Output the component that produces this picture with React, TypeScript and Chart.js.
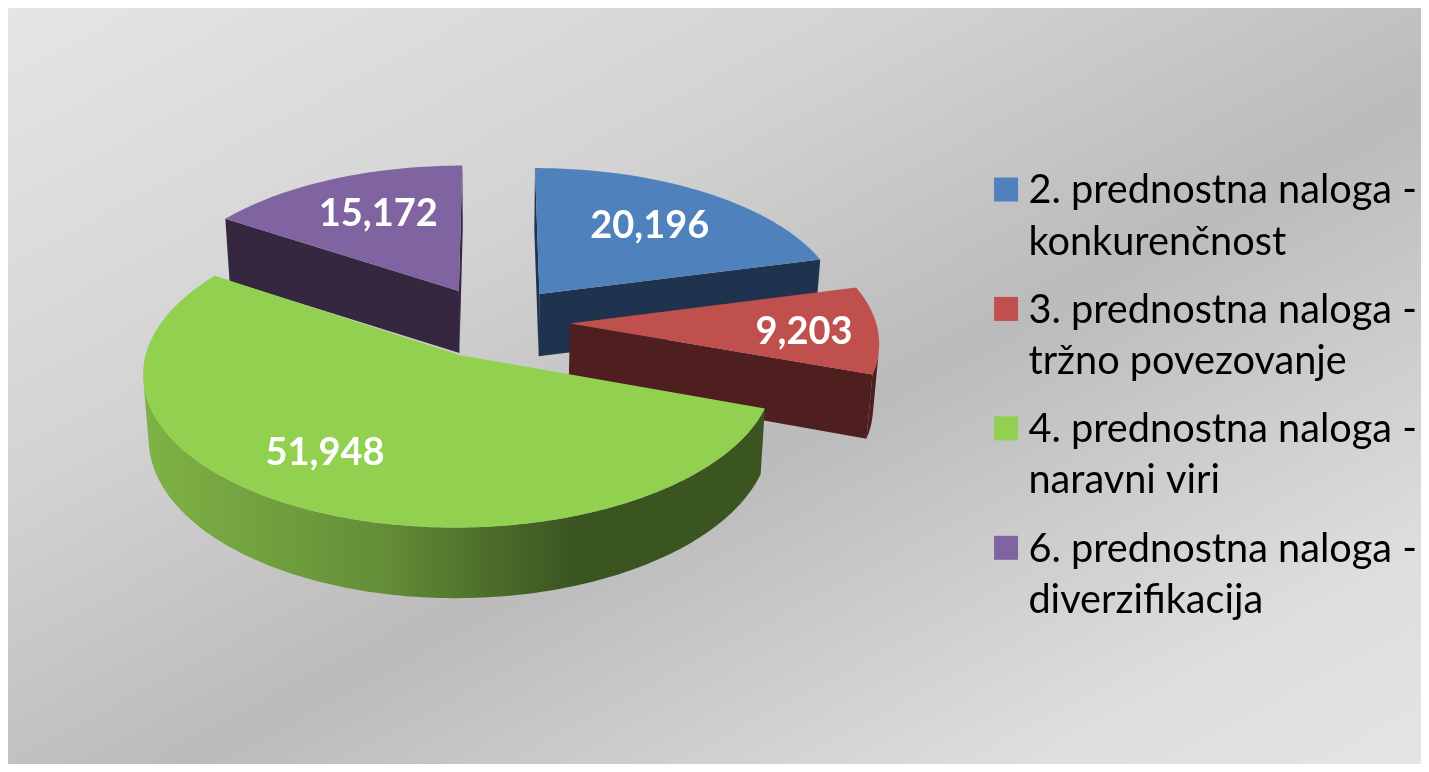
import React, { useEffect, useRef } from "react";
import { Chart, registerables } from "chart.js";

Chart.register(...registerables);

const categories = [
  ["2. prednostna naloga -", "konkurenčnost"],
  ["3. prednostna naloga -", "tržno povezovanje"],
  ["4. prednostna naloga -", "naravni viri"],
  ["6. prednostna naloga -", "diverzifikacija"],
];
const values = [20196, 9203, 51948, 15172];
const valueLabels = ["20,196", "9,203", "51,948", "15,172"];
const topColors = ["#4f81bd", "#c0504d", "#92d050", "#8064a2"];
const wallColors = ["#1f334f", "#4e1f1e", "#3b5520", "#35273f"];
const labelRadius = [0.65, 0.76, 0.713, 0.66];
const labelTurn = [0, 1.5, 6.8, 1.8];
const drawOrder = [3, 0, 1, 2];

const WIDTH = 1413;
const HEIGHT = 756;
const CX = 486;
const CY = 314;
const RX = 306;
const RY = 145.6;
const PERSPECTIVE = 0.11;
const EXPLODE = 0.248;
const DEPTH = 62;
const FLOOR_SCALE_X = 1.016;
const FLOOR_SCALE_Y = 1.005;

type P = [number, number];

function project(x: number, y: number, low: boolean): P {
  const w = 1 + PERSPECTIVE * y;
  const sx = low ? FLOOR_SCALE_X : 1;
  const sy = low ? FLOOR_SCALE_Y : 1;
  const drop = low ? (y >= 0 ? DEPTH : DEPTH / w) : 0;
  return [CX + (RX * x) / (w * sx), CY - (RY * y) / (w * sy) + drop];
}

function area(pts: P[]) {
  let a = 0;
  pts.forEach((p, i) => {
    const q = pts[(i + 1) % pts.length];
    a += p[0] * q[1] - q[0] * p[1];
  });
  return a;
}

function poly(ctx: CanvasRenderingContext2D, pts: P[], fill: string | CanvasGradient) {
  ctx.beginPath();
  pts.forEach((p, i) => (i ? ctx.lineTo(p[0], p[1]) : ctx.moveTo(p[0], p[1])));
  ctx.closePath();
  ctx.fillStyle = fill;
  ctx.fill();
}

const backgroundPlugin = {
  id: "slideBackground",
  beforeDraw(chart: any) {
    const { ctx } = chart;
    const g = ctx.createLinearGradient(0, 0, 627, 1175);
    g.addColorStop(0, "#e5e5e5");
    g.addColorStop(0.315, "#d3d3d3");
    g.addColorStop(0.563, "#bbbbbb");
    g.addColorStop(0.86, "#dedede");
    g.addColorStop(1, "#e4e4e4");
    ctx.save();
    ctx.fillStyle = g;
    ctx.fillRect(0, 0, WIDTH, HEIGHT);
    ctx.restore();
  },
};

const pie3dPlugin = {
  id: "pie3d",
  beforeDatasetsDraw(chart: any) {
    const { ctx } = chart;
    const arcs = chart.getDatasetMeta(0).data;
    ctx.save();
    const greenWall = ctx.createLinearGradient(130, 0, 564, 0);
    greenWall.addColorStop(0, "#80b445");
    greenWall.addColorStop(0.55, "#658f38");
    greenWall.addColorStop(1, wallColors[2]);

    const geom = (i: number) => {
      const a0 = arcs[i].startAngle + Math.PI / 2;
      const a1 = arcs[i].endAngle + Math.PI / 2;
      const mid = (a0 + a1) / 2;
      const ox = EXPLODE * Math.sin(mid);
      const oy = EXPLODE * Math.cos(mid);
      return { a0, a1, mid, ox, oy };
    };

    drawOrder.forEach((i) => {
      const { a0, a1, ox, oy } = geom(i);
      const wall = i === 2 ? greenWall : wallColors[i];
      const top = arcs[i].options.backgroundColor;
      const pt = (a: number, low: boolean) => project(ox + Math.sin(a), oy + Math.cos(a), low);
      const apex = (low: boolean) => project(ox, oy, low);

      const startWall: P[] = [apex(false), pt(a0, false), pt(a0, true), apex(true)];
      if (area(startWall) < 0) poly(ctx, startWall, wall);
      const endWall: P[] = [apex(false), pt(a1, false), pt(a1, true), apex(true)];
      if (area(endWall) > 0) poly(ctx, endWall, wall);

      const n = Math.ceil(((a1 - a0) * 180) / Math.PI);
      const upper: P[] = [];
      const lower: P[] = [];
      for (let k = 0; k < n; k++) {
        const t0 = a0 + ((a1 - a0) * k) / n;
        const t1 = a0 + ((a1 - a0) * (k + 1)) / n;
        const q: P[] = [pt(t0, false), pt(t1, false), pt(t1, true), pt(t0, true)];
        if (area(q) < 0) {
          if (!upper.length) {
            upper.push(q[0]);
            lower.push(q[3]);
          }
          upper.push(q[1]);
          lower.push(q[2]);
        }
      }
      if (upper.length) poly(ctx, [...upper, ...lower.reverse()], wall);

      const face: P[] = [apex(false)];
      for (let k = 0; k <= n; k++) face.push(pt(a0 + ((a1 - a0) * k) / n, false));
      poly(ctx, face, top);
    });

    ctx.fillStyle = "#ffffff";
    ctx.font = "bold 38px Lato";
    ctx.textAlign = "center";
    ctx.textBaseline = "middle";
    valueLabels.forEach((text, i) => {
      const { mid, ox, oy } = geom(i);
      const r = labelRadius[i];
      const a = mid + (labelTurn[i] * Math.PI) / 180;
      const [x, y] = project(ox + r * Math.sin(a), oy + r * Math.cos(a), false);
      ctx.fillText(text, x, y);
    });
    ctx.restore();
    return false;
  },
};

function swatch(color: string) {
  const c = document.createElement("canvas");
  c.width = 36;
  c.height = 40;
  const g = c.getContext("2d") as CanvasRenderingContext2D;
  g.fillStyle = color;
  g.fillRect(11, 7, 24, 24);
  return c;
}

export default function App() {
  const ref = useRef<HTMLCanvasElement | null>(null);
  useEffect(() => {
    const chart = new Chart(ref.current as HTMLCanvasElement, {
      type: "pie",
      data: {
        labels: categories as any,
        datasets: [{ data: values, backgroundColor: topColors, borderWidth: 0 }],
      },
      options: {
        animation: false,
        responsive: false,
        rotation: 0,
        layout: { padding: { top: 30, right: -6 } },
        plugins: {
          tooltip: { enabled: false },
          legend: {
            position: "right",
            labels: {
              color: "#000000",
              font: { family: "Lato", size: 39.7, lineHeight: 1.29 },
              usePointStyle: true,
              pointStyleWidth: 15,
              boxHeight: 24,
              padding: 17,
              textAlign: "left",
              generateLabels(c: any) {
                return (Chart as any).overrides.pie.plugins.legend.labels
                  .generateLabels(c)
                  .map((item: any, i: number) => ({ ...item, pointStyle: swatch(topColors[i]) }));
              },
            },
          },
        },
      },
      plugins: [backgroundPlugin, pie3dPlugin],
    } as any);
    return () => chart.destroy();
  }, []);
  return <canvas ref={ref} width={WIDTH} height={HEIGHT} style={{ display: "block" }} />;
}
